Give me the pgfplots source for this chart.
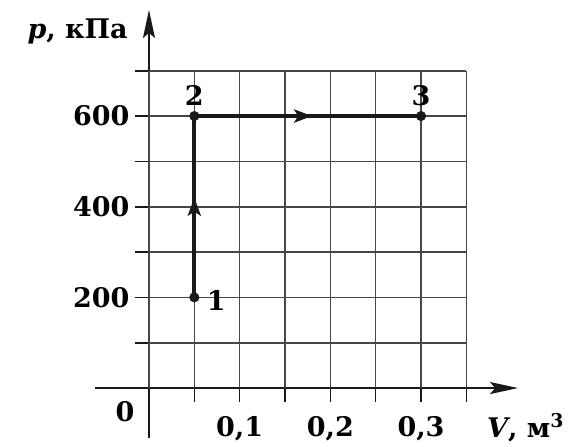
\documentclass[border=0pt]{standalone}
\usepackage{fontspec}
\setmainfont{DejaVu Serif}
\usepackage{pgfplots}
\pgfplotsset{compat=1.18}
\usetikzlibrary{arrows.meta,decorations.markings}
\newcommand\fs{\fontsize{27}{32}\selectfont\bfseries}
\begin{document}
\begin{tikzpicture}
\begin{axis}[
  x=906.7pt, y=0.4533pt,
  xmin=-0.0596, xmax=0.407, ymin=-110, ymax=834,
  axis lines=middle,
  axis line style={line width=1.8pt, black!90, -{Stealth[length=28pt,width=12pt,inset=5pt]}},
  xtick={0.05,0.1,0.15,0.2,0.25,0.3,0.35},
  xticklabels={{},{0,1},{},{0,2},{},{0,3},{}},
  ytick={100,200,300,400,500,600,700},
  yticklabels={{},200,{},400,{},600,{}},
  tick align=outside,
  major tick length=14pt,
  tick style={black!90, line width=1.6pt},
  xticklabel style={font=\fs, anchor=north, yshift=-11pt},
  yticklabel style={font=\fs, anchor=east, xshift=-2pt},
  clip=false,
]
\pgfplotsinvokeforeach{0,0.05,0.1,0.15,0.2,0.25,0.3,0.35}{
  \draw[line width=1.6pt, black!72] (axis cs:#1,0) -- (axis cs:#1,700);
}
\pgfplotsinvokeforeach{100,200,300,400,500,600,700}{
  \draw[line width=1.6pt, black!72] (axis cs:0,#1) -- (axis cs:0.35,#1);
}
\addplot[line width=4pt, black!90, postaction={decorate}, decoration={markings,
  mark=at position 0.55 with {\arrow{Stealth[length=18pt,width=13pt,inset=4pt]}}}]
  coordinates {(0.05,200) (0.05,600)};
\addplot[line width=4pt, black!90, postaction={decorate}, decoration={markings,
  mark=at position 0.52 with {\arrow{Stealth[length=18pt,width=13pt,inset=4pt]}}}]
  coordinates {(0.05,600) (0.3,600)};
\addplot[only marks, mark=*, mark size=4.8pt, black!90]
  coordinates {(0.05,200) (0.05,600) (0.3,600)};
\node[font=\fs, anchor=west] at (axis cs:0.060,194) {1};
\node[font=\fs] at (axis cs:0.05,646) {2};
\node[font=\fs] at (axis cs:0.3,646) {3};
\node[font=\fs] at (axis cs:-0.0265,-53) {0};
\node[font=\fs, anchor=base east, inner sep=0pt] at (axis cs:-0.0232,772) {\textit{p}, кПа};
\node[font=\fs, anchor=base west, inner sep=0pt] at (axis cs:0.3728,-108) {\textit{V}, м\textsuperscript{3}};
\coordinate (bl) at (axis cs:-0.1643,-128);
\coordinate (tr) at (axis cs:0.4698,856);
\end{axis}
\pgfresetboundingbox
\path (bl) rectangle (tr);
\end{tikzpicture}
\end{document}
